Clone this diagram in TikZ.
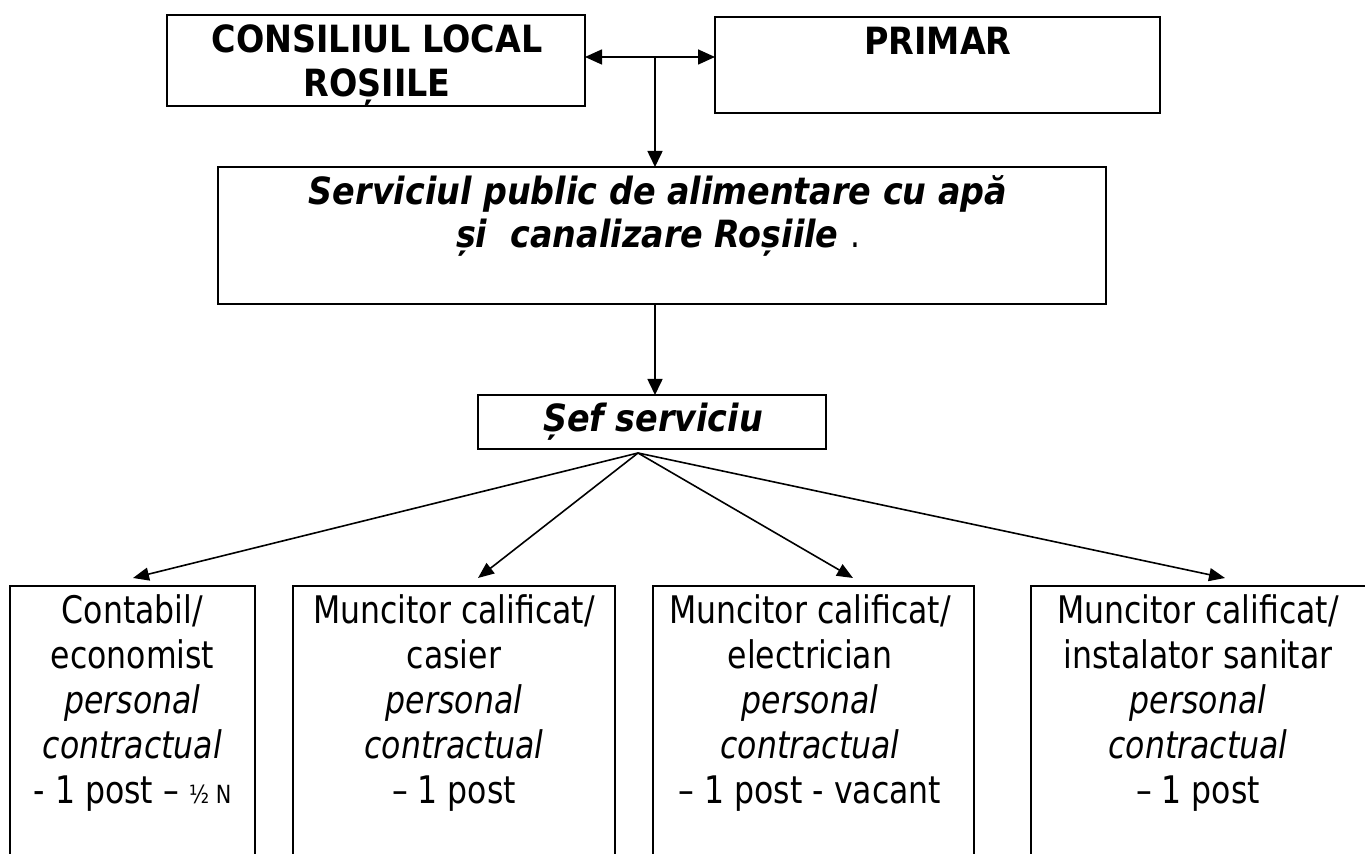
\documentclass[tikz,border=0pt]{standalone}
\usepackage{fontspec}
\setmainfont{DejaVu Sans}[UprightFeatures={FakeStretch=0.83}, ItalicFeatures={FakeStretch=0.83}, BoldFeatures={FakeStretch=0.89}, BoldItalicFeatures={FakeStretch=0.89}]
\usetikzlibrary{arrows.meta,calc}
\newcommand\stackedlines[1]{\begin{tabular}[t]{@{}c@{}}#1\end{tabular}}
\newcommand\regfont{\fontsize{19pt}{22.5pt}\selectfont}
\newcommand\boldfont{\bfseries\fontsize{18.75pt}{22pt}\selectfont}
\newcommand\bifont{\bfseries\itshape\fontsize{18.75pt}{21.5pt}\selectfont}
\begin{document}
\begin{tikzpicture}[x=0.5pt,y=-0.5pt,
  topbox/.style={draw, rectangle, line width=1.25pt, inner sep=0pt, outer sep=0pt},
  lowbox/.style={draw, rectangle, line width=1pt, inner sep=0pt, outer sep=0pt},
  txt/.style={anchor=base, inner sep=0pt, outer sep=0pt},
  conn/.style={line width=0.8pt},
  headtip/.style={-{Triangle[length=8pt,width=7.5pt]}},
  bothtip/.style={{Triangle[length=8.5pt,width=7.5pt]}-{Triangle[length=8.5pt,width=7.5pt]}},
  fantip/.style={-{Triangle[length=8pt,width=6.5pt]}}]
\fill[white] (0,0) rectangle (1365,854);
\useasboundingbox (0,0) rectangle (1365,854);
\clip (0,0) rectangle (1365,854);

% boxes
\node[topbox, minimum width=209pt, minimum height=45.5pt] (cl) at (376,60.5) {};
\node[topbox, minimum width=222.5pt, minimum height=48pt] (pr) at (937.5,65) {};
\node[topbox, minimum width=444pt, minimum height=68.5pt] (mid) at (662,235.5) {};
\node[topbox, minimum width=174pt, minimum height=27pt] (sef) at (652,422) {};
\node[lowbox, minimum width=122.5pt, minimum height=157pt] (b1) at (132.5,743) {};
\node[lowbox, minimum width=161pt, minimum height=157pt] (b2) at (454,743) {};
\node[lowbox, minimum width=160.5pt, minimum height=157pt] (b3) at (813.5,743) {};
\node[lowbox, minimum width=169.5pt, minimum height=157pt] (b4) at (1200.5,743) {};

% texts
\node[txt, font=\boldfont] (clt) at (377,53) {\stackedlines{CONSILIUL LOCAL\\ROȘIILE}};
\node[txt, font=\boldfont] (prt) at (938,55) {PRIMAR};
\node[txt, font=\bifont] (midt) at (658,205) {\stackedlines{Serviciul public de alimentare cu apă\\și\ \ canalizare Roșiile {\normalfont\fontsize{18.75pt}{21.5pt}\selectfont .}}};
\node[txt, font=\bifont] (seft) at (653,432) {Șef serviciu};
\node[txt, font=\regfont] (b1t) at (132.5,624) {\stackedlines{Contabil/\\economist\\\textit{personal}\\\textit{contractual}\\- 1 post – {\fontsize{12.5pt}{15pt}\selectfont ½ N}}};
\node[txt, font=\regfont] (b2t) at (454,624) {\stackedlines{Muncitor calificat/\\casier\\\textit{personal}\\\textit{contractual}\\– 1 post}};
\node[txt, font=\regfont] (b3t) at (810,624) {\stackedlines{Muncitor calificat/\\electrician\\\textit{personal}\\\textit{contractual}\\– 1 post - vacant}};
\node[txt, font=\regfont] (b4t) at (1198,624) {\stackedlines{Muncitor calificat/\\instalator sanitar\\\textit{personal}\\\textit{contractual}\\– 1 post}};

% connectors
\coordinate (j) at (655,57);
\draw[conn, bothtip] (cl.east |- j) -- (pr.west |- j);
\draw[conn, headtip] (j) -- (j |- mid.north);
\draw[conn, headtip] (mid.south -| j) -- (sef.north -| j);

\coordinate (f) at (638,453);
\coordinate (t1) at (133,578);
\coordinate (t2) at (478,578);
\coordinate (t3) at (853,578);
\coordinate (t4) at (1225,578);
\draw[conn, fantip] (f) -- (t1);
\draw[conn, fantip] (f) -- (t2);
\draw[conn, fantip] (f) -- (t3);
\draw[conn, fantip] (f) -- (t4);
\end{tikzpicture}
\end{document}
